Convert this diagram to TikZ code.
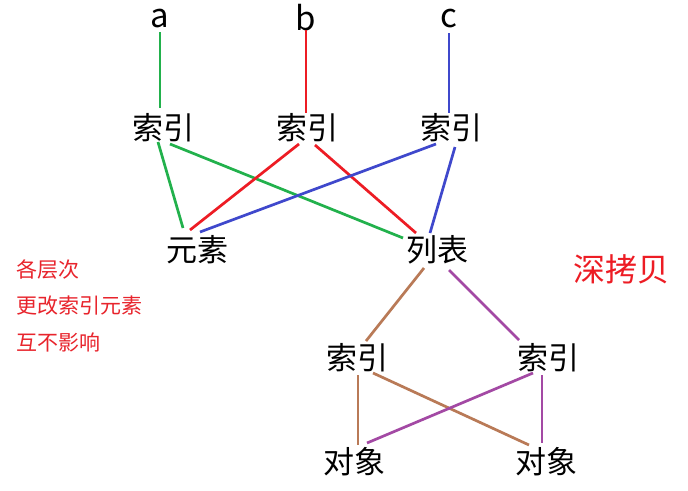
\documentclass[tikz,border=0pt]{standalone}
\usepackage{fontspec}
\setmainfont{Noto Sans CJK SC}
\usetikzlibrary{calc}
\definecolor{pgreen}{HTML}{22B14C}
\definecolor{pred}{HTML}{ED1C24}
\definecolor{pblue}{HTML}{3F48CC}
\definecolor{pbrown}{HTML}{B97A57}
\definecolor{ppurple}{HTML}{A349A4}
\definecolor{ntext}{HTML}{E8242C}
\begin{document}
\begin{tikzpicture}[x=1pt,y=-1pt,
  lbl/.style={inner sep=0pt,font=\fontsize{31}{36}\selectfont},
  ltr/.style={inner sep=0pt,font=\fontsize{33}{38}\selectfont},
  note/.style={inner sep=0pt,anchor=west,text=ntext,font=\fontsize{21}{25}\selectfont},
  big/.style={inner sep=0pt,text=pred,font=\fontsize{32}{37}\selectfont},
  ln/.style={line width=2.7pt}]
\useasboundingbox[fill=white] (0,0) rectangle (688,490);
\node[ltr] (a) at (160,19) {a};
\node[ltr] (b) at (306,18) {b};
\node[ltr] (c) at (449,19) {c};
\node[lbl] (i1) at (163,128) {索引};
\node[lbl] (i2) at (307,128) {索引};
\node[lbl] (i3) at (451,128) {索引};
\node[lbl] (el) at (197,250) {元素};
\node[lbl] (li) at (437,250) {列表};
\node[lbl] (i4) at (357,358) {索引};
\node[lbl] (i5) at (548,358) {索引};
\node[lbl] (o1) at (354,462) {对象};
\node[lbl] (o2) at (546,462) {对象};
\node[note] (n1) at (16,270) {各层次};
\node[note] (n2) at (16,306) {更改索引元素};
\node[note] (n3) at (16,342) {互不影响};
\node[big] (dc) at (621,269) {深拷贝};
% top-level
\draw[ln,pgreen] ($(a)+(0,13)$) -- ($(i1)+(-3,-20)$);
\draw[ln,pred] ($(b)+(0,12)$) -- ($(i2)+(-1,-15)$);
\draw[ln,pblue] ($(c)+(0,14)$) -- ($(i3)+(-2,-15)$);
% index to element/list
\draw[ln,pgreen] ($(i1)+(-5,14)$) -- ($(el)+(-14,-22)$);
\draw[ln,pgreen] ($(i1)+(7,16)$) -- ($(li)+(-34,-12)$);
\draw[ln,pred] ($(i2)+(-8,16)$) -- ($(el)+(-7,-20)$);
\draw[ln,pred] ($(i2)+(8,17)$) -- ($(li)+(-21,-17)$);
\draw[ln,pblue] ($(i3)+(-15,16)$) -- ($(el)+(3,-18)$);
\draw[ln,pblue] ($(i3)+(4,19)$) -- ($(li)+(-7,-17)$);
% list to indices
\draw[ln,pbrown] ($(li)+(-13,18)$) -- ($(i4)+(9,-17)$);
\draw[ln,ppurple] ($(li)+(12,20)$) -- ($(i5)+(-29,-18)$);
% indices to objects
\draw[ln,pbrown] ($(i4)+(1,17)$) -- ($(o1)+(4,-17)$);
\draw[ln,pbrown] ($(i4)+(16,15)$) -- ($(o2)+(-17,-17)$);
\draw[ln,ppurple] ($(i5)+(-15,15)$) -- ($(o1)+(13,-19)$);
\draw[ln,ppurple] ($(i5)+(-6,17)$) -- ($(o2)+(-4,-19)$);
\end{tikzpicture}
\end{document}
